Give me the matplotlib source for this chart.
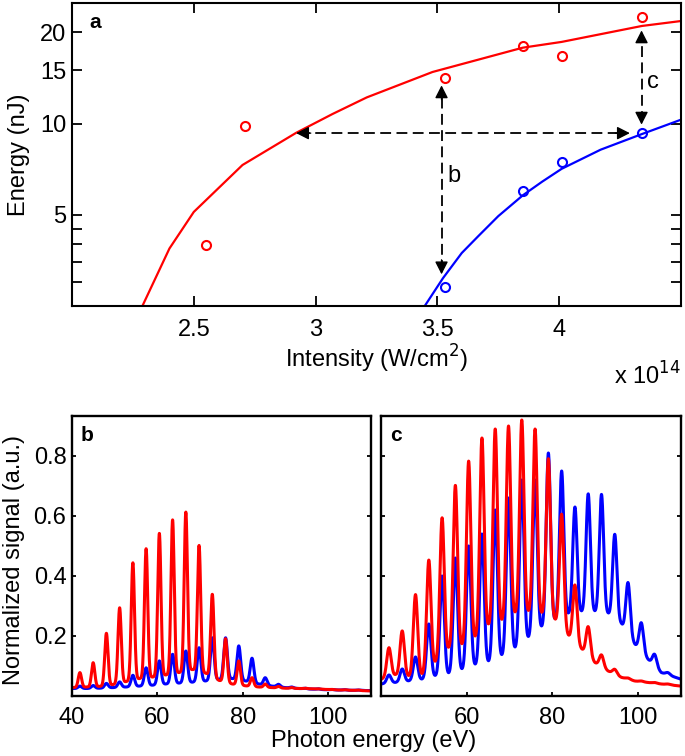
import numpy as np
import matplotlib
matplotlib.use('Agg')
import matplotlib.pyplot as plt
from matplotlib.ticker import FixedLocator, FixedFormatter, NullFormatter

plt.rcParams['font.family'] = ['Liberation Sans', 'DejaVu Sans']

# ---------------- Panel a data ----------------
intensity_red = [2.55, 2.71, 3.53, 3.85, 4.01, 4.34]
energy_red = [3.96, 9.85, 14.1, 18.05, 16.65, 22.5]
intensity_blue = [3.53, 3.85, 4.01, 4.34]
energy_blue = [2.89, 5.99, 7.48, 9.32]
fit_red_x = [2.289, 2.40, 2.50, 2.70, 2.92, 3.07, 3.21, 3.48, 3.85, 4.01, 4.34, 4.5]
fit_red_y = [2.5, 3.87, 5.11, 7.3, 9.32, 10.76, 12.2, 14.8, 17.8, 18.6, 21.0, 21.8]
fit_blue_x = [3.448, 3.523, 3.60, 3.669, 3.75, 3.851, 3.93, 4.01, 4.17, 4.342, 4.5]
fit_blue_y = [2.5, 3.09, 3.74, 4.26, 4.95, 5.8, 6.43, 7.09, 8.2, 9.25, 10.3]
yticks_a = [3, 3.5, 4, 4.5, 5, 10, 15, 20]
yticklabels_a = ['', '', '', '', '5', '10', '15', '20']
xticks_a = [2.5, 3, 3.5, 4]
xticklabels_a = ['2.5', '3', '3.5', '4']

# ---------------- Panels b, c data ----------------
harmonic_eV = [41.85, 44.95, 48.05, 51.15, 54.25, 57.35, 60.45, 63.55, 66.65, 69.75,
               72.85, 75.95, 79.05, 82.15, 85.25, 88.35, 91.45, 94.55, 97.65, 100.75,
               103.85, 106.95]
b_red_peak = [0.078, 0.111, 0.209, 0.294, 0.444, 0.491, 0.542, 0.587, 0.613, 0.502,
              0.339, 0.191, 0.117, 0.061, 0.040, 0.032, 0.028, 0.026, 0.024, 0.022,
              0.021, 0.020]
b_blue_peak = [0.033, 0.035, 0.042, 0.047, 0.069, 0.094, 0.117, 0.139, 0.150, 0.161,
               0.194, 0.194, 0.167, 0.126, 0.061, 0.039, 0.030, 0.026, 0.024, 0.022,
               0.021, 0.020]
c_red_peak = [0.161, 0.217, 0.338, 0.453, 0.594, 0.702, 0.783, 0.86, 0.89, 0.90,
              0.92, 0.89, 0.791, 0.606, 0.37, 0.231, 0.137, 0.089, 0.06, 0.05,
              0.045, 0.04]
c_blue_peak = [0.07, 0.09, 0.13, 0.24, 0.40, 0.46, 0.50, 0.54, 0.62, 0.66,
               0.72, 0.72, 0.81, 0.75, 0.63, 0.674, 0.672, 0.539, 0.378, 0.244,
               0.139, 0.078]
trough_eV = [40, 43.4, 46.5, 49.6, 52.7, 55.8, 58.9, 62.0, 65.1, 68.2, 71.3, 74.4,
             77.5, 80.6, 83.7, 86.8, 89.9, 93.0, 96.1, 99.2, 102.3, 105.4, 110]
b_red_trough = [0.028, 0.030, 0.032, 0.038, 0.048, 0.058, 0.063, 0.070, 0.078, 0.088,
                0.076, 0.052, 0.040, 0.034, 0.030, 0.028, 0.026, 0.025, 0.024, 0.022,
                0.020, 0.019, 0.017]
b_blue_trough = [0.025, 0.025, 0.026, 0.028, 0.030, 0.033, 0.036, 0.040, 0.043, 0.046,
                 0.050, 0.055, 0.058, 0.050, 0.040, 0.033, 0.028, 0.025, 0.023, 0.021,
                 0.020, 0.019, 0.018]
c_red_trough = [0.056, 0.07, 0.065, 0.07, 0.11, 0.155, 0.165, 0.19, 0.23, 0.245,
                0.27, 0.275, 0.27, 0.25, 0.2, 0.156, 0.111, 0.083, 0.062, 0.05,
                0.045, 0.04, 0.033]
c_blue_trough = [0.04, 0.045, 0.05, 0.055, 0.065, 0.072, 0.085, 0.1, 0.11, 0.13,
                 0.155, 0.19, 0.225, 0.25, 0.27, 0.278, 0.278, 0.272, 0.239, 0.172,
                 0.122, 0.078, 0.056]
yticks_bc = [0.2, 0.4, 0.6, 0.8]
yticklabels_bc = ['0.2', '0.4', '0.6', '0.8']
xticks_bc = [40, 60, 80, 100]

RED = '#ff0000'
BLUE = '#0000ff'
FS = 17

W, H = 685, 756
fig = plt.figure(figsize=(W / 100, H / 100), dpi=100)


def box(l, t, r, b):
    return [l / W, 1 - b / H, (r - l) / W, (b - t) / H]


def fx(px):
    return px / W


def fy(py):
    return 1 - py / H


# ---------------- Panel a ----------------
ax = fig.add_axes(box(72, 3, 681, 306))
ax.set_yscale('log')
ax.plot(fit_red_x, fit_red_y, color=RED, lw=1.6)
ax.plot(fit_blue_x, fit_blue_y, color=BLUE, lw=1.6)
ax.plot(intensity_red, energy_red, 'o', mfc='none', mec=RED, mew=1.5, ms=6.5)
ax.plot(intensity_blue, energy_blue, 'o', mfc='none', mec=BLUE, mew=1.5, ms=6.5)
ax.set_xlim(2.0, 4.5)
ax.set_ylim(2.5, 25)
ax.yaxis.set_major_locator(FixedLocator(yticks_a))
ax.yaxis.set_major_formatter(FixedFormatter(yticklabels_a))
ax.yaxis.set_minor_locator(FixedLocator([]))
ax.yaxis.set_minor_formatter(NullFormatter())
ax.xaxis.set_major_locator(FixedLocator(xticks_a))
ax.xaxis.set_major_formatter(FixedFormatter(xticklabels_a))
ax.tick_params(direction='in', length=7, width=1.3, labelsize=FS,
               top=True, right=True)
ax.tick_params(axis='x', pad=9)
ax.tick_params(axis='y', pad=4)
for s in ax.spines.values():
    s.set_linewidth(1.5)
ax.set_xlabel('Intensity (W/cm$^2$)', fontsize=FS)
ax.xaxis.set_label_coords(0.5, -(359 - 306) / 303.0)
ax.xaxis.label.set_va('center')
ax.set_ylabel('Energy (nJ)', fontsize=FS)
ax.yaxis.set_label_coords(-(72 - 19) / 609.0, 0.5)
ax.yaxis.label.set_va('center')
ax.text(fx(89), fy(23), 'a', transform=fig.transFigure, fontsize=15,
        fontweight='bold', va='center', ha='left')
fig.text(fx(681), fy(376), r'x 10$^{14}$', fontsize=FS, ha='right', va='center')

dash = dict(color='black', lw=1.3, dashes=(6, 3))
head = dict(arrowstyle='-|>,head_length=0.55,head_width=0.28', color='black',
            lw=1.0, mutation_scale=14, shrinkA=0, shrinkB=0)

# horizontal arrow
hy = 9.3
ax.plot([2.93, 4.28], [hy, hy], **dash)
ax.annotate('', xy=(2.92, hy), xytext=(2.98, hy), arrowprops=head)
ax.annotate('', xy=(4.29, hy), xytext=(4.23, hy), arrowprops=head)
# vertical arrow b
bx = 3.517
ax.plot([bx, bx], [3.25, 13.1], **dash)
ax.annotate('', xy=(bx, 13.37), xytext=(bx, 12.0), arrowprops=head)
ax.annotate('', xy=(bx, 3.18), xytext=(bx, 3.55), arrowprops=head)
ax.text(3.542, 6.7, 'b', fontsize=FS, va='center', ha='left')
# vertical arrow c
cx = 4.338
ax.plot([cx, cx], [10.1, 19.9], **dash)
ax.annotate('', xy=(cx, 20.3), xytext=(cx, 18.8), arrowprops=head)
ax.annotate('', xy=(cx, 9.92), xytext=(cx, 10.8), arrowprops=head)
ax.text(4.36, 13.7, 'c', fontsize=FS, va='center', ha='left')

# ---------------- Panels b, c ----------------
x = np.linspace(40, 110, 3000)


def spectrum(peaks, troughs, sigma):
    base = np.interp(x, trough_eV, troughs)
    y = base.copy()
    for e, h in zip(harmonic_eV, peaks):
        amp = h - np.interp(e, trough_eV, troughs)
        y += amp * np.exp(-0.5 * ((x - e) / sigma) ** 2)
    return y


top_bc = 416
axb = fig.add_axes(box(72, top_bc, 371, 696))
axc = fig.add_axes(box(381, top_bc, 681, 696))
ytop = (696 - top_bc) / 300.0

axb.plot(x, spectrum(b_blue_peak, b_blue_trough, 0.42), color=BLUE, lw=2.2)
axb.plot(x, spectrum(b_red_peak, b_red_trough, 0.38), color=RED, lw=2.2)
axc.plot(x, spectrum(c_blue_peak, c_blue_trough, 0.5), color=BLUE, lw=2.2)
axc.plot(x, spectrum(c_red_peak, c_red_trough, 0.5), color=RED, lw=2.2)

for a, lab in ((axb, 'b'), (axc, 'c')):
    a.set_xlim(40, 110)
    a.set_ylim(0, ytop)
    a.xaxis.set_major_locator(FixedLocator(xticks_bc))
    a.yaxis.set_major_locator(FixedLocator(yticks_bc))
    a.tick_params(direction='in', length=3, width=1.3, labelsize=FS,
                  top=False, right=True)
    a.tick_params(axis='x', pad=8)
    a.tick_params(axis='y', pad=4)
    for s in a.spines.values():
        s.set_linewidth(1.7)
    a.text(0.03, 0.965, lab, transform=a.transAxes, fontsize=15, fontweight='bold',
           va='top', ha='left')
axb.yaxis.set_major_formatter(FixedFormatter(yticklabels_bc))
axb.xaxis.set_major_formatter(FixedFormatter(['40', '60', '80', '100']))
axc.yaxis.set_major_formatter(FixedFormatter(['', '', '', '']))
axc.xaxis.set_major_formatter(FixedFormatter(['', '60', '80', '100']))
axb.set_ylabel('Normalized signal (a.u.)', fontsize=FS)
axb.yaxis.set_label_coords(-(72 - 14) / 299.0, (696 - 560) / 280.0)
axb.yaxis.label.set_va('center')
fig.text(fx(374), fy(741), 'Photon energy (eV)', fontsize=FS,
         ha='center', va='center')

fig.savefig('out.png', dpi=100)
